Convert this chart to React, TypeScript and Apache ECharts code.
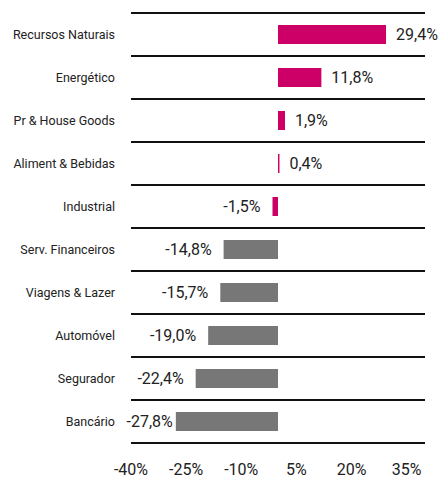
import React, { useEffect, useRef } from "react";
import * as echarts from "echarts";

const categories = [
  "Recursos Naturais",
  "Energético",
  "Pr & House Goods",
  "Aliment & Bebidas",
  "Industrial",
  "Serv. Financeiros",
  "Viagens & Lazer",
  "Automóvel",
  "Segurador",
  "Bancário",
];
const values = [29.4, 11.8, 1.9, 0.4, -1.5, -14.8, -15.7, -19.0, -22.4, -27.8];
const barColors = [
  "#CC0066", "#CC0066", "#CC0066", "#CC0066", "#CC0066",
  "#777777", "#777777", "#777777", "#777777", "#777777",
];
const xMin = -40;
const xMax = 40;
const xStep = 15;

const FONT = 'Roboto, "Liberation Sans", sans-serif';

export default function App() {
  const ref = useRef<HTMLDivElement>(null);
  useEffect(() => {
    document.body.style.margin = "0";
    if (!ref.current) return;
    const chart = echarts.init(ref.current, null, { renderer: "svg" });
    chart.setOption({
      animation: false,
      grid: {
        left: 131,
        right: 17,
        top: 13,
        bottom: 34,
        containLabel: false,
        outerBoundsMode: "none",
      },
      xAxis: {
        type: "value",
        min: xMin,
        max: xMax,
        interval: xStep,
        axisLine: { show: false },
        axisTick: { show: false },
        splitLine: { show: false },
        axisLabel: {
          showMaxLabel: false,
          margin: 18,
          color: "#222",
          fontFamily: FONT,
          fontSize: 16,
          formatter: (v: number) => (v === xMax ? "" : `${v}%`),
        },
      },
      yAxis: {
        type: "category",
        data: categories,
        inverse: true,
        axisLine: { show: false },
        axisTick: { show: false },
        splitLine: { show: true, lineStyle: { color: "#111", width: 2 } },
        axisLabel: {
          margin: 16,
          color: "#222",
          fontFamily: FONT,
          fontSize: 12.5,
        },
      },
      series: [
        {
          type: "bar",
          barWidth: 19,
          data: values.map((v, i) => ({
            value: v,
            itemStyle: { color: barColors[i] },
            label: {
              show: true,
              position: v >= 0 ? "right" : "left",
              distance: v >= 0 ? 10 : i === values.length - 1 ? 3 : 12,
              formatter: () => `${v.toFixed(1).replace(".", ",")}%`,
              color: "#222",
              fontFamily: FONT,
              fontSize: 16,
            },
          })),
        },
      ],
    });
    return () => chart.dispose();
  }, []);
  return <div ref={ref} style={{ width: 442, height: 477 }} />;
}
